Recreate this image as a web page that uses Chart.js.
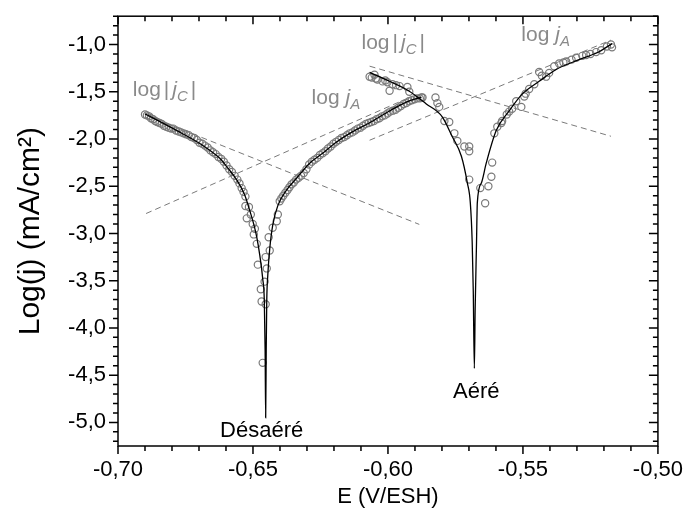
<!DOCTYPE html>
<html>
<head>
<meta charset="utf-8">
<script src="https://cdn.jsdelivr.net/npm/chart.js@4.4.1/dist/chart.umd.min.js"></script>
<style>
  html, body { margin: 0; padding: 0; background: #fff; }
</style>
</head>
<body>
<canvas id="chart" width="686" height="520"></canvas>
<script>
// axis ranges and ticks
var xTickValues = [-0.70, -0.65, -0.60, -0.55, -0.50];
var xTickLabels = ["-0,70", "-0,65", "-0,60", "-0,55", "-0,50"];
var yTickValues = [-5.0, -4.5, -4.0, -3.5, -3.0, -2.5, -2.0, -1.5, -1.0];
var yTickLabels = ["-5,0", "-4,5", "-4,0", "-3,5", "-3,0", "-2,5", "-2,0", "-1,5", "-1,0"];

// measured points, [E (V/ESH), log j]
var desaerePoints = [
  [-0.6900,-1.74],[-0.6893,-1.75],[-0.6885,-1.76],[-0.6878,-1.78],[-0.6870,-1.79],[-0.6862,-1.81],
  [-0.6855,-1.82],[-0.6846,-1.83],[-0.6838,-1.84],[-0.6830,-1.86],[-0.6821,-1.87],[-0.6812,-1.88],
  [-0.6803,-1.89],[-0.6795,-1.89],[-0.6785,-1.91],[-0.6775,-1.92],[-0.6766,-1.93],[-0.6757,-1.94],
  [-0.6748,-1.95],[-0.6738,-1.96],[-0.6728,-1.98],[-0.6718,-1.99],[-0.6708,-2.01],[-0.6698,-2.04],
  [-0.6688,-2.05],[-0.6678,-2.07],[-0.6668,-2.09],[-0.6658,-2.12],[-0.6648,-2.14],[-0.6638,-2.16],
  [-0.6628,-2.19],[-0.6618,-2.21],[-0.6608,-2.24],[-0.6598,-2.28],[-0.6588,-2.32],[-0.6578,-2.35],
  [-0.6568,-2.39],[-0.6558,-2.43],[-0.6550,-2.47],[-0.6542,-2.52],[-0.6535,-2.56],[-0.6528,-2.61],
  [-0.6528,-2.71],[-0.6515,-2.72],[-0.6523,-2.84],[-0.6508,-2.80],[-0.6501,-2.90],[-0.6493,-2.95],
  [-0.6497,-3.01],[-0.6486,-3.11],[-0.6482,-3.33],[-0.6471,-3.59],[-0.6468,-3.72],[-0.6464,-4.37],
  [-0.6453,-3.75],[-0.6457,-3.51],[-0.6449,-3.37],[-0.6453,-3.25],[-0.6438,-3.18],[-0.6442,-3.04],
  [-0.6427,-2.94],[-0.6412,-2.87],[-0.6408,-2.80],[-0.6401,-2.66],
  [-0.6395,-2.63],[-0.6388,-2.60],[-0.6380,-2.57],[-0.6372,-2.54],[-0.6365,-2.51],[-0.6357,-2.48],
  [-0.6349,-2.46],[-0.6340,-2.43],[-0.6331,-2.41],[-0.6322,-2.39],[-0.6312,-2.36],[-0.6302,-2.32],
  [-0.6292,-2.27],[-0.6282,-2.24],[-0.6272,-2.22],[-0.6262,-2.20],[-0.6252,-2.17],[-0.6242,-2.15],
  [-0.6232,-2.13],[-0.6222,-2.10],[-0.6212,-2.08],[-0.6202,-2.05],[-0.6192,-2.03],[-0.6182,-2.01],
  [-0.6172,-1.99],[-0.6162,-1.98],[-0.6152,-1.96],[-0.6142,-1.94],[-0.6132,-1.93],[-0.6122,-1.91],
  [-0.6112,-1.89],[-0.6102,-1.88],[-0.6092,-1.86],[-0.6082,-1.84],[-0.6072,-1.83],[-0.6062,-1.82],
  [-0.6052,-1.81],[-0.6042,-1.79],[-0.6032,-1.78],[-0.6022,-1.76],[-0.6012,-1.75],[-0.6002,-1.73],
  [-0.5992,-1.71],[-0.5982,-1.70],[-0.5972,-1.69],[-0.5962,-1.67],[-0.5952,-1.65],[-0.5942,-1.63],
  [-0.5932,-1.62],[-0.5922,-1.60],[-0.5912,-1.59],[-0.5902,-1.58],[-0.5892,-1.57],[-0.5882,-1.57],
  [-0.5876,-1.56]
];

var aerePoints = [
  [-0.6068,-1.34],[-0.6060,-1.35],[-0.6050,-1.32],[-0.6045,-1.36],[-0.6039,-1.37],[-0.6020,-1.39],
  [-0.6010,-1.38],[-0.6002,-1.40],[-0.5994,-1.49],[-0.5983,-1.42],[-0.5970,-1.43],[-0.5957,-1.44],
  [-0.5928,-1.45],[-0.5921,-1.50],[-0.5872,-1.56],[-0.5824,-1.56],[-0.5817,-1.62],[-0.5810,-1.66],
  [-0.5791,-1.81],[-0.5773,-1.82],[-0.5754,-1.94],[-0.5743,-2.02],[-0.5717,-2.08],[-0.5699,-2.08],
  [-0.5699,-2.13],[-0.5699,-2.43],[-0.5658,-2.52],[-0.5628,-2.50],[-0.5617,-2.40],[-0.5640,-2.68],
  [-0.5614,-2.25],[-0.5606,-1.94],[-0.5595,-1.87],[-0.5580,-1.83],[-0.5577,-1.81],[-0.5560,-1.74],
  [-0.5551,-1.71],[-0.5540,-1.68],[-0.5525,-1.60],[-0.5506,-1.66],[-0.5495,-1.55],[-0.5490,-1.52],
  [-0.5477,-1.47],[-0.5458,-1.42],[-0.5440,-1.29],[-0.5430,-1.33],[-0.5414,-1.34],[-0.5403,-1.30],
  [-0.5384,-1.23],[-0.5366,-1.20],[-0.5350,-1.19],[-0.5340,-1.18],[-0.5320,-1.16],[-0.5303,-1.14],
  [-0.5280,-1.12],[-0.5266,-1.11],[-0.5250,-1.10],[-0.5229,-1.08],[-0.5210,-1.06],[-0.5189,-1.02],
  [-0.5174,-1.00],[-0.5170,-1.03]
];

// fitted curves
var desaereFit = [
  [-0.6900,-1.734],[-0.6782,-1.911],[-0.6697,-2.047],[-0.6660,-2.120],[-0.6623,-2.204],[-0.6593,-2.308],
  [-0.6560,-2.434],[-0.6531,-2.590],[-0.6512,-2.757],[-0.6497,-2.904],[-0.6486,-3.039],[-0.6475,-3.227],
  [-0.6464,-3.478],[-0.6458,-3.718],[-0.6455,-4.240],[-0.6453,-4.951],
  [-0.6451,-4.240],[-0.6449,-3.718],[-0.6445,-3.436],[-0.6438,-3.165],[-0.6427,-2.914],[-0.6408,-2.705],
  [-0.6375,-2.538],[-0.6338,-2.413],[-0.6290,-2.256],[-0.6242,-2.152],[-0.6198,-2.047],[-0.6143,-1.943],
  [-0.6068,-1.828],[-0.5994,-1.703],[-0.5932,-1.609],[-0.5876,-1.556]
];
var aereFit = [
  [-0.6068,-1.295],[-0.5994,-1.389],[-0.5921,-1.494],[-0.5858,-1.629],[-0.5799,-1.765],[-0.5762,-1.974],
  [-0.5728,-2.183],[-0.5706,-2.465],[-0.5695,-2.674],[-0.5688,-3.092],[-0.5684,-3.614],[-0.5680,-4.429],
  [-0.5677,-3.800],[-0.5672,-3.100],[-0.5669,-2.674],[-0.5654,-2.465],[-0.5636,-2.256],[-0.5599,-1.911],
  [-0.5551,-1.703],[-0.5503,-1.525],[-0.5440,-1.389],[-0.5377,-1.264],[-0.5292,-1.160],[-0.5218,-1.076],
  [-0.5170,-0.990]
];

// Tafel asymptotes (start, end)
var desaereCathTafel = [[-0.6863,-1.786],[-0.5884,-2.904]];
var desaereAnodTafel = [[-0.6896,-2.789],[-0.5921,-1.561]];
var aereCathTafel = [[-0.6068,-1.229],[-0.5174,-1.971]];
var aereAnodTafel = [[-0.6068,-2.013],[-0.5174,-0.953]];

// text anchors
var tafelLabels = [
  { E: -0.6945, logJ: -1.545, sub: "C", abs: true },
  { E: -0.6283, logJ: -1.630, sub: "A", abs: false },
  { E: -0.6098, logJ: -1.050, sub: "C", abs: true },
  { E: -0.5506, logJ: -0.960, sub: "A", abs: false }
];
var curveNames = [
  { text: "Désaéré", E: -0.6468, logJ: -5.090 },
  { text: "Aéré", E: -0.5673, logJ: -4.680 }
];

var FONT = "'Liberation Sans', Arial, sans-serif";
var GREY = "#7a7a7a";

function xy(list) {
  return list.map(function (p) { return { x: p[0], y: p[1] }; });
}

// frame and Origin-style tick marks (major + minor, mirrored)
var frameTicks = {
  id: "frameTicks",
  afterDraw: function (chart) {
    var ctx = chart.ctx, a = chart.chartArea;
    var xs = chart.scales.x, ys = chart.scales.y;
    ctx.save();
    ctx.strokeStyle = "#000";
    ctx.lineWidth = 1.5;
    ctx.strokeRect(a.left, a.top, a.right - a.left, a.bottom - a.top);
    ctx.beginPath();
    for (let i = -70; i <= -50; i++) {
      var px = xs.getPixelForValue(i / 100);
      var len = i % 5 === 0 ? 8 : 5;
      ctx.moveTo(px, a.bottom); ctx.lineTo(px, a.bottom + len);
      ctx.moveTo(px, a.top); ctx.lineTo(px, a.top + len);
    }
    for (let i = -52; i <= -7; i++) {
      var py = ys.getPixelForValue(i / 10);
      var l = i % 5 === 0 ? 9 : 5;
      ctx.moveTo(a.left, py); ctx.lineTo(a.left - l, py);
      ctx.moveTo(a.right, py); ctx.lineTo(a.right - l, py);
    }
    ctx.stroke();
    ctx.restore();
  }
};

function drawTafelLabel(ctx, x, y, sub, abs) {
  var size = 21;
  var cx = x;
  ctx.font = size + "px " + FONT;
  ctx.fillText("log", cx, y);
  cx += ctx.measureText("log").width + (abs ? 3 : 6);
  if (abs) {
    ctx.fillText("|", cx, y);
    cx += ctx.measureText("|").width + 3;
  }
  ctx.font = "italic " + size + "px " + FONT;
  ctx.fillText("j", cx, y);
  cx += ctx.measureText("j").width;
  ctx.font = "italic " + Math.round(size * 0.7) + "px " + FONT;
  ctx.fillText(sub, cx, y + 5);
  cx += ctx.measureText(sub).width + 3;
  if (abs) {
    ctx.font = size + "px " + FONT;
    ctx.fillText("|", cx, y);
  }
}

var textLabels = {
  id: "textLabels",
  afterDraw: function (chart) {
    var ctx = chart.ctx, xs = chart.scales.x, ys = chart.scales.y;
    ctx.save();
    ctx.fillStyle = "#8a8a8a";
    ctx.textAlign = "left";
    ctx.textBaseline = "alphabetic";
    tafelLabels.forEach(function (t) {
      drawTafelLabel(ctx, xs.getPixelForValue(t.E), ys.getPixelForValue(t.logJ), t.sub, t.abs);
    });
    ctx.fillStyle = "#000";
    ctx.font = "22px " + FONT;
    ctx.textAlign = "center";
    ctx.textBaseline = "middle";
    curveNames.forEach(function (n) {
      ctx.fillText(n.text, xs.getPixelForValue(n.E), ys.getPixelForValue(n.logJ));
    });
    ctx.restore();
  }
};

function fitLine(data) {
  return {
    type: "line", data: xy(data), borderColor: "#000", borderWidth: 1.3,
    pointRadius: 0, fill: false, cubicInterpolationMode: "monotone"
  };
}
function tafelLine(data) {
  return {
    type: "line", data: xy(data), borderColor: GREY, borderWidth: 1,
    borderDash: [6, 4], pointRadius: 0, fill: false
  };
}
function measured(data) {
  return {
    type: "scatter", data: xy(data), borderColor: GREY, backgroundColor: "rgba(0,0,0,0)",
    borderWidth: 1.2, pointRadius: 3.6, pointStyle: "circle", showLine: false
  };
}

Chart.defaults.font.family = FONT;
Chart.defaults.color = "#000";

var ctx = document.getElementById("chart").getContext("2d");
var myChart = new Chart(ctx, {
  type: "scatter",
  data: {
    datasets: [
      fitLine(desaereFit),
      fitLine(aereFit),
      tafelLine(desaereCathTafel),
      tafelLine(desaereAnodTafel),
      tafelLine(aereCathTafel),
      tafelLine(aereAnodTafel),
      measured(desaerePoints),
      measured(aerePoints)
    ]
  },
  options: {
    responsive: false,
    animation: false,
    layout: { padding: { left: 0, top: 11, right: 27, bottom: 0 } },
    plugins: { legend: { display: false }, tooltip: { enabled: false } },
    scales: {
      x: {
        type: "linear", position: "bottom", min: -0.70, max: -0.50,
        afterBuildTicks: function (s) { s.ticks = xTickValues.map(function (v) { return { value: v }; }); },
        afterFit: function (s) { s.height = 74; },
        ticks: {
          autoSkip: false, maxRotation: 0, padding: 3,
          font: { size: 22 }, color: "#000",
          callback: function (v, i) { return xTickLabels[i]; }
        },
        grid: { display: false, drawTicks: true, tickLength: 8 },
        border: { display: false },
        title: { display: true, text: "E (V/ESH)", font: { size: 22 }, color: "#000", padding: { top: 0, bottom: 10 } }
      },
      y: {
        type: "linear", position: "left", min: -5.25, max: -0.70,
        afterBuildTicks: function (s) { s.ticks = yTickValues.map(function (v) { return { value: v }; }); },
        afterFit: function (s) { s.width = 118; },
        ticks: {
          autoSkip: false, padding: 3,
          font: { size: 22 }, color: "#000",
          callback: function (v, i) { return yTickLabels[i]; }
        },
        grid: { display: false, drawTicks: true, tickLength: 9 },
        border: { display: false },
        title: { display: true, text: "Log(j) (mA/cm²)", font: { size: 30 }, color: "#000", padding: { top: 13, bottom: 0 } }
      }
    }
  },
  plugins: [frameTicks, textLabels]
});
</script>
</body>
</html>
